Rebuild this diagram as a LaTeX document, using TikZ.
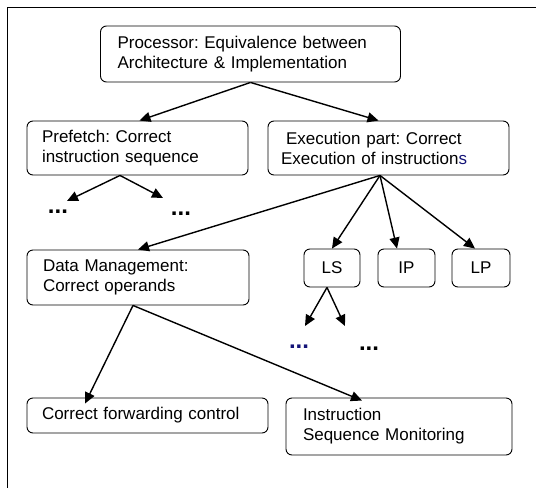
\documentclass[tikz,border=0pt]{standalone}
\usepackage{fontspec}
\setmainfont{Liberation Sans}
\usetikzlibrary{arrows.meta}
\definecolor{darkblue}{RGB}{20,20,120}
\frenchspacing
\begin{document}
\begin{tikzpicture}[x=1pt,y=-1pt,
  font=\fontsize{17}{20}\selectfont,
  box/.style={draw, line width=0.9pt, rounded corners=6pt, inner ysep=0pt,
    align=left, anchor=center},
  smallbox/.style={draw, line width=0.9pt, rounded corners=6pt, inner sep=0pt,
    align=center, minimum height=38pt},
  link/.style={line width=1.4pt, -{Triangle[length=11pt,width=10pt]}},
  dots/.style={font=\fontsize{24}{24}\selectfont\bfseries, inner sep=0pt}]
  \useasboundingbox (0,0) rectangle (536,488);
  % open frame: top and left edges only
  \draw[line width=1.6pt] (536,7.5) -- (7.5,7.5) -- (7.5,488);

  % boxes
  \node[box, text width=266pt, inner xsep=17pt, minimum height=56pt] (top) at (250.5,54)
    {Processor: Equivalence between\\Architecture \& Implementation};
  \node[box, text width=191pt, inner xsep=15pt, minimum height=54pt] (pf) at (137.5,148)
    {Prefetch: Correct\\instruction sequence};
  \node[box, text width=215pt, inner xsep=13pt, minimum height=54pt] (ex) at (388.5,148)
    {\hspace*{5pt}Execution part: Correct\\Execution of instruction{\color{darkblue}s}};
  \node[box, text width=190pt, inner xsep=16pt, minimum height=55pt] (dm) at (138,277.5)
    {Data Management:\\Correct operands};
  \node[smallbox, minimum width=56pt] (ls) at (332,268) {LS};
  \node[smallbox, minimum width=57pt] (ip) at (406.5,268) {IP};
  \node[smallbox, minimum width=58pt] (lp) at (481,268) {LP};
  \node[box, text width=211pt, inner xsep=15pt, minimum height=35pt] (fw) at (147.5,415.5)
    {Correct forwarding control};
  \node[box, text width=192pt, inner xsep=17pt, minimum height=57pt] (ism) at (399,426.5)
    {Instruction\\Sequence Monitoring};

  % continuation marks
  \node[dots] (d1) at (58,212) {...};
  \node[dots] (d2) at (181,214) {...};
  \node[dots, text=darkblue] (d3) at (299,347) {...};
  \node[dots] (d4) at (369,349) {...};

  \coordinate (pfl) at (67,201);
  \coordinate (pfr) at (163,198);
  \coordinate (lsl) at (305,326);
  \coordinate (lsr) at (345,326);

  % connectors
  \draw[link] (top.south) -- ([xshift=2pt]pf.north);
  \draw[link] (top.south) -- ([xshift=-10pt]ex.north);
  \draw[link] ([xshift=-17.5pt]pf.south) -- (pfl);
  \draw[link] ([xshift=-17.5pt]pf.south) -- (pfr);
  \draw[link] ([xshift=-8.5pt]ex.south) -- (dm.north);
  \draw[link] ([xshift=-8.5pt]ex.south) -- (ls.north);
  \draw[link] ([xshift=-8.5pt]ex.south) -- ([xshift=-9.5pt]ip.north);
  \draw[link] ([xshift=-8.5pt]ex.south) -- ([xshift=-6pt]lp.north);
  \draw[link] ([xshift=-5pt]ls.south) -- (lsl);
  \draw[link] ([xshift=-5pt]ls.south) -- (lsr);
  \draw[link] ([xshift=-5pt]dm.south) -- ([xshift=-62.5pt,yshift=-6pt]fw.north);
  \draw[link] ([xshift=-5pt]dm.south) -- ([xshift=-37pt,yshift=-3pt]ism.north);
\end{tikzpicture}
\end{document}
